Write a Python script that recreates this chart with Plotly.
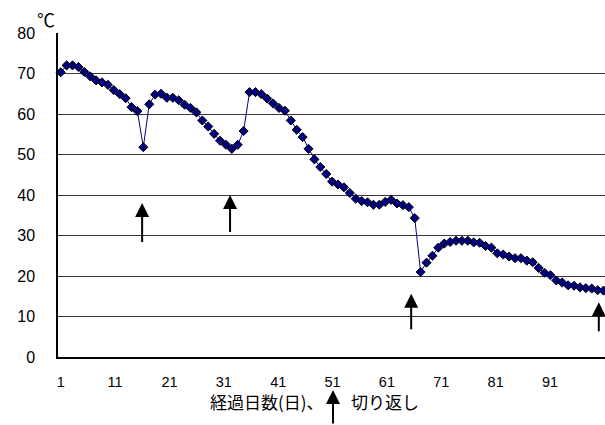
import plotly.graph_objects as go

# ---- data ----
days = list(range(1, 94))
temps = [70.3, 72.0, 72.0, 71.6, 70.4, 69.3, 68.3, 67.8, 67.2, 65.9,
         64.9, 63.9, 61.7, 60.7, 51.8, 62.4, 64.8, 65.0, 64.0, 64.0,
         63.4, 62.3, 61.5, 60.4, 58.4, 56.9, 55.1, 53.4, 52.4, 51.4,
         52.4, 55.8, 65.4, 65.4, 64.9, 63.8, 62.6, 61.5, 60.8, 58.4,
         56.1, 54.3, 51.4, 48.8, 46.9, 45.2, 43.3, 42.6, 41.9, 40.5,
         39.1, 38.5, 38.2, 37.6, 37.6, 38.3, 38.8, 37.9, 37.5, 37.0,
         34.3, 21.0, 23.3, 25.0, 27.0, 28.0, 28.4, 28.7, 28.7, 28.7,
         28.3, 28.2, 27.4, 27.0, 25.6, 25.3, 24.8, 24.4, 24.4, 23.8,
         23.4, 22.0, 20.8, 20.2, 18.9, 18.4, 17.7, 17.6, 17.2, 17.0,
         16.9, 16.5, 16.4]
tick_labels = ["1", "11", "21", "31", "41", "51", "61", "71", "81", "91"]
y_ticks = [0, 10, 20, 30, 40, 50, 60, 70, 80]
# turning (切り返し) arrows: x position (day), tip value, tail value
arrow_x = [14.8, 29.7, 60.4, 92.2]
arrow_tip = [38.0, 40.0, 15.6, 13.5]
arrow_tail = [28.0, 30.5, 6.5, 6.0]

W, H = 605, 425
L, R, T, B = 58, 0, 33, 68
plot_w = W - L - R
plot_h = H - T - B

# tick label positions as laid out in the reference (uniform 0.9215-day step)
tick_pos = [1 + (int(t) - 1) * 0.9215 for t in tick_labels]

fig = go.Figure()
fig.add_trace(go.Scatter(
    x=days, y=temps, mode="lines+markers",
    line=dict(color="#000080", width=1),
    marker=dict(symbol="diamond", size=7, color="#000080",
                line=dict(color="#000000", width=1)),
    cliponaxis=False, showlegend=False, hoverinfo="x+y"))

anns = []
for ax_, tip, tail in zip(arrow_x, arrow_tip, arrow_tail):
    anns.append(dict(x=ax_, y=tip, ax=ax_, ay=tail, xref="x", yref="y",
                     axref="x", ayref="y", text="", showarrow=True,
                     arrowhead=2, arrowsize=1.4, arrowwidth=2,
                     arrowcolor="#000000"))

def px_x(p):
    return (p - L) / plot_w

def px_y(p):
    return (H - B - p) / plot_h

jp = "Noto Sans CJK JP"
anns.append(dict(x=px_x(326), y=px_y(401), xref="paper", yref="paper",
                 text="経過日数(日)、", showarrow=False, xanchor="right",
                 yanchor="middle", font=dict(family=jp, size=17, color="#000")))
anns.append(dict(x=px_x(349), y=px_y(401), xref="paper", yref="paper",
                 text="切り返し", showarrow=False, xanchor="left",
                 yanchor="middle", font=dict(family=jp, size=17, color="#000")))
anns.append(dict(x=px_x(333), y=px_y(390), xref="paper", yref="paper",
                 ax=0, ay=36, text="", showarrow=True, arrowhead=2,
                 arrowsize=1.4, arrowwidth=2, arrowcolor="#000"))
anns.append(dict(x=px_x(35), y=px_y(19), xref="paper", yref="paper",
                 text="℃", showarrow=False, xanchor="left", yanchor="middle",
                 font=dict(family=jp, size=18, color="#000")))

fig.update_layout(
    width=W, height=H,
    margin=dict(l=L, r=R, t=T, b=B, pad=0, autoexpand=False),
    paper_bgcolor="white", plot_bgcolor="white",
    annotations=anns,
    xaxis=dict(range=[0.54, 93.25], tickmode="array", tickvals=tick_pos,
               ticktext=tick_labels, showgrid=False, zeroline=False,
               showline=True, linecolor="#000", linewidth=1.5,
               ticks="", ticklabelstandoff=11, automargin=False,
               tickfont=dict(family="Liberation Sans", size=14.5, color="#000")),
    yaxis=dict(range=[0, 80], tickmode="array", tickvals=y_ticks,
               ticktext=[str(v) for v in y_ticks],
               showgrid=True, gridcolor="#3a3a3a", gridwidth=1,
               zeroline=False, showline=True, linecolor="#000", linewidth=1.5,
               ticks="", ticklabelstandoff=18, automargin=False,
               tickfont=dict(family="Liberation Sans", size=16, color="#000")),
)

fig.write_html("out.html",
               config={"displayModeBar": False},
               post_script="document.body.style.margin='0';"
                           "document.body.style.overflow='hidden';")
